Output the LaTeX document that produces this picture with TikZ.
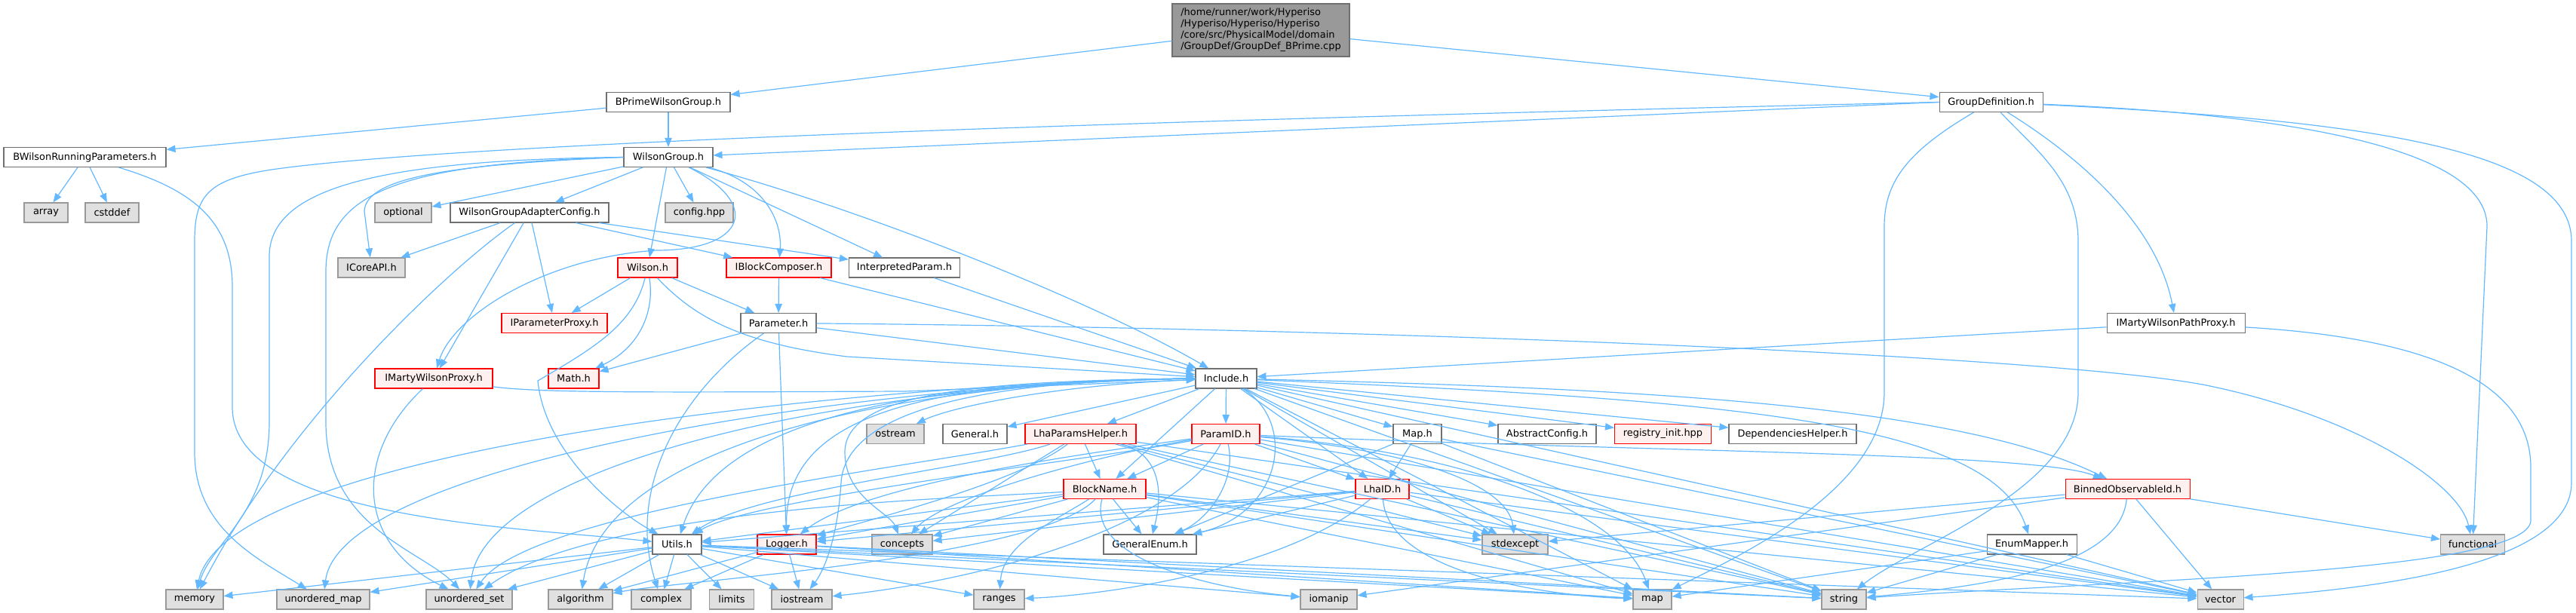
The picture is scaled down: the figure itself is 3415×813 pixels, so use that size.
\documentclass[tikz,border=0pt]{standalone}
\usepackage{fontspec}
\setmainfont{DejaVu Sans}
\usetikzlibrary{arrows.meta}

\definecolor{depblue}{HTML}{63B8FF}
\definecolor{nodegray}{HTML}{707070}
\definecolor{sysborder}{HTML}{999999}
\definecolor{sysfill}{HTML}{E0E0E0}
\definecolor{truncfill}{HTML}{FFF0F0}
\definecolor{rootfill}{HTML}{999999}

\tikzset{every picture/.style={line width=0.75pt}}
\tikzset{
  hfile/.style={draw=nodegray, fill=white, line width=0.8pt, minimum height=19.5pt, inner sep=0pt, font=\fontsize{9.7}{11.25}\selectfont},
  sysfile/.style={hfile, draw=sysborder, fill=sysfill},
  trunc/.style={hfile, draw=red, fill=truncfill},
  rootfile/.style={hfile, draw=nodegray, fill=rootfill, align=left},
  dep/.style={draw=depblue, line width=0.9pt, -{Triangle[length=9pt,width=7pt]}},
}

\begin{document}
\begin{tikzpicture}[x=0.75pt,y=0.75pt,yscale=-1]
\useasboundingbox (0,0) rectangle (3415,813);

% Text Node
\node[rootfile, minimum width=176.25pt, minimum height=52.5pt] (root) at (1671.5,40) {/home/runner/work/Hyperiso\\/Hyperiso/Hyperiso/Hyperiso\\/core/src/PhysicalModel/domain\\/GroupDef/GroupDef\_BPrime.cpp};
% Text Node
\node[hfile, minimum width=123pt] (bpwg) at (886,135.5) {BPrimeWilsonGroup.h};
\node[hfile, minimum width=102.75pt] (grpdef) at (2639.5,135.5) {GroupDefinition.h};
% Text Node
\node[hfile, minimum width=161.25pt] (bwrp) at (112.5,208.5) {BWilsonRunningParameters.h};
\node[hfile, minimum width=88.5pt] (wgrp) at (886,208.5) {WilsonGroup.h};
% Text Node
\node[sysfile, minimum width=43.5pt] (array) at (61,282) {array};
\node[sysfile, minimum width=53.25pt] (cstddef) at (148.5,282) {cstddef};
\node[sysfile, minimum width=56.25pt] (optional) at (534.5,282) {optional};
\node[hfile, minimum width=157.5pt] (wgac) at (702,282) {WilsonGroupAdapterConfig.h};
\node[sysfile, minimum width=67.5pt] (confighpp) at (927,282) {config.hpp};
% Text Node
\node[sysfile, minimum width=66.75pt] (icoreapi) at (492.5,355) {ICoreAPI.h};
\node[trunc, minimum width=59.25pt] (wilson) at (858.5,355) {Wilson.h};
\node[trunc, minimum width=104.25pt] (iblock) at (1032.5,355) {IBlockComposer.h};
\node[hfile, minimum width=110.25pt] (interp) at (1199,355) {InterpretedParam.h};
% Text Node
\node[trunc, minimum width=105pt] (ipproxy) at (735,428.5) {IParameterProxy.h};
\node[hfile, minimum width=75pt] (param) at (1032,428.5) {Parameter.h};
\node[hfile, minimum width=137.25pt] (impathproxy) at (2884.5,428.5) {IMartyWilsonPathProxy.h};
% Text Node
\node[trunc, minimum width=117pt] (imwproxy) at (575,502) {IMartyWilsonProxy.h};
\node[trunc, minimum width=50.25pt] (math) at (760.5,502) {Math.h};
\node[hfile, minimum width=60.75pt] (include) at (1625.5,502) {Include.h};
% Text Node
\node[sysfile, minimum width=57pt] (ostream) at (1187,575.5) {ostream};
\node[hfile, minimum width=63.75pt] (general) at (1292.5,575.5) {General.h};
\node[trunc, minimum width=110.25pt] (lhaph) at (1432.5,575.5) {LhaParamsHelper.h};
\node[trunc, minimum width=67.5pt] (paramid) at (1625,575.5) {ParamID.h};
\node[hfile, minimum width=48pt] (maph) at (1879,575.5) {Map.h};
\node[hfile, minimum width=97.5pt] (abscfg) at (2051,575.5) {AbstractConfig.h};
\node[trunc, minimum width=96pt] (reginit) at (2204.5,575.5) {registry\_init.hpp};
\node[hfile, minimum width=126.75pt] (dephelp) at (2376.5,575.5) {DependenciesHelper.h};
% Text Node
\node[trunc, minimum width=81.75pt] (blockname) at (1464.5,648.5) {BlockName.h};
\node[trunc, minimum width=53.25pt] (lhaid) at (1832.5,648.5) {LhaID.h};
\node[trunc, minimum width=123.75pt] (binobs) at (2820.5,648.5) {BinnedObservableId.h};
% Text Node
\node[hfile, minimum width=48.75pt] (utils) at (897.5,722) {Utils.h};
\node[trunc, minimum width=58.5pt] (logger) at (1043,722) {Logger.h};
\node[sysfile, minimum width=60pt] (concepts) at (1196,722) {concepts};
\node[hfile, minimum width=92.25pt] (genenum) at (1524.5,722) {GeneralEnum.h};
\node[sysfile, minimum width=65.25pt] (stdexcept) at (2008.5,722) {stdexcept};
\node[hfile, minimum width=89.25pt] (enummap) at (2693.5,722) {EnumMapper.h};
\node[sysfile, minimum width=63.75pt] (functional) at (3278,722) {functional};
% Text Node
\node[sysfile, minimum width=57pt] (memory) at (258,795) {memory};
\node[sysfile, minimum width=92.25pt] (umap) at (428.5,795) {unordered\_map};
\node[sysfile, minimum width=85.5pt] (uset) at (622,795) {unordered\_set};
\node[sysfile, minimum width=63.75pt] (algorithm) at (769.5,795) {algorithm};
\node[sysfile, minimum width=59.25pt] (complex) at (876.5,795) {complex};
\node[sysfile, minimum width=44.25pt] (limits) at (970,795) {limits};
\node[sysfile, minimum width=60pt] (iostream) at (1063,795) {iostream};
\node[sysfile, minimum width=50.25pt] (ranges) at (1324.5,795) {ranges};
\node[sysfile, minimum width=56.25pt] (iomanip) at (1761.5,795) {iomanip};
\node[sysfile, minimum width=38.25pt] (map) at (2190.5,795) {map};
\node[sysfile, minimum width=44.25pt] (string) at (2444.5,795) {string};
\node[sysfile, minimum width=45.75pt] (vector) at (2943.5,795) {vector};

%Straight Lines
\draw[dep] (root) -- (bpwg);
\draw[dep] (root) -- (grpdef);
\draw[dep] (bpwg) -- (bwrp);
\draw[dep] (bpwg) -- (wgrp);
\draw[dep] (grpdef.west) -- (wgrp);
%Curve Lines
\draw[dep] (grpdef.west) .. controls (1500,160) and (600,190) .. (360,225) .. controls (275,238) and (258,260) .. (258,320) -- (258,600) .. controls (258,700) and (340,740) .. (umap);
\draw[dep] (grpdef) .. controls (2760,210) and (2860,300) .. (impathproxy);
\draw[dep] (grpdef) .. controls (2530,200) and (2498,240) .. (2498,300) -- (2498,520) .. controls (2498,650) and (2300,740) .. (map);
\draw[dep] (grpdef) .. controls (2700,200) and (2755,240) .. (2755,320) -- (2755,520) .. controls (2755,650) and (2540,720) .. (string);
\draw[dep] (grpdef) .. controls (3000,150) and (3297,190) .. (3297,300) -- (functional);
\draw[dep] (grpdef) .. controls (3150,160) and (3409,200) .. (3409,320) -- (3409,640) .. controls (3409,750) and (3150,780) .. (vector);

%BWilsonRunningParameters
\draw[dep] (bwrp) -- (array);
\draw[dep] (bwrp) -- (cstddef);
\draw[dep] (bwrp) .. controls (250,250) and (308,290) .. (308,380) -- (308,540) .. controls (308,690) and (700,700) .. (utils);

%WilsonGroup
\draw[dep] (wgrp) -- (optional);
\draw[dep] (wgrp) -- (wgac);
\draw[dep] (wgrp) -- (confighpp);
\draw[dep] (wgrp) -- (wilson);
\draw[dep] (wgrp) -- (interp);
\draw[dep] (wgrp) .. controls (1010,240) and (1037,290) .. (iblock);
\draw[dep] (wgrp) .. controls (1150,280) and (1450,400) .. (include);
\draw[dep] (wgrp.west) .. controls (600,218) and (485,235) .. (483,280) -- (icoreapi);
\draw[dep] (wgrp) .. controls (1010,270) and (990,332) .. (870,332) .. controls (720,342) and (600,420) .. (imwproxy);
\draw[dep] (wgrp.west) .. controls (500,212) and (357,250) .. (357,340) -- (357,560) .. controls (357,680) and (280,720) .. (memory);
\draw[dep] (wgrp.west) .. controls (520,216) and (432,260) .. (432,360) -- (432,560) .. controls (432,700) and (560,730) .. (uset);

%WilsonGroupAdapterConfig
\draw[dep] (wgac) -- (icoreapi);
\draw[dep] (wgac) -- (ipproxy);
\draw[dep] (wgac) -- (iblock);
\draw[dep] (wgac) -- (interp);
\draw[dep] (wgac) -- (imwproxy);
\draw[dep] (wgac) .. controls (590,360) and (380,560) .. (memory);

%Wilson
\draw[dep] (wilson) -- (ipproxy);
\draw[dep] (wilson) -- (param);
\draw[dep] (wilson) .. controls (868,410) and (850,460) .. (math);
\draw[dep] (wilson) .. controls (920,420) and (980,455) .. (1123,473) -- (include);
\draw[dep] (wilson) .. controls (840,430) and (790,460) .. (713,505) .. controls (722,600) and (820,680) .. (utils);

%IBlockComposer, InterpretedParam, Parameter
\draw[dep] (iblock) -- (param);
\draw[dep] (iblock) -- (include);
\draw[dep] (interp) -- (include);
\draw[dep] (param) -- (math);
\draw[dep] (param) -- (include);
\draw[dep] (param) -- (logger);
\draw[dep] (param) .. controls (900,520) and (830,650) .. (complex);
\draw[dep] (param) .. controls (1800,435) and (2700,470) .. (2920,510) .. controls (3120,550) and (3260,640) .. (functional);

%Proxies
\draw[dep] (impathproxy) -- (include);
\draw[dep] (impathproxy) .. controls (3250,450) and (3355,520) .. (3355,620) -- (3355,690) .. controls (3355,760) and (2800,770) .. (string);
\draw[dep] (imwproxy) .. controls (720,522) and (900,520) .. (1200,519) -- (include);
\draw[dep] (imwproxy) .. controls (470,600) and (470,720) .. (uset);

%Include
\draw[dep] (include) .. controls (1400,510) and (1260,540) .. (ostream);
\draw[dep] (include) -- (general);
\draw[dep] (include) -- (lhaph);
\draw[dep] (include) -- (paramid);
\draw[dep] (include) -- (blockname);
\draw[dep] (include) -- (lhaid);
\draw[dep] (include) -- (maph);
\draw[dep] (include) -- (abscfg);
\draw[dep] (include) -- (reginit);
\draw[dep] (include) -- (dephelp);
\draw[dep] (include) -- (stdexcept);
\draw[dep] (include) -- (map);
\draw[dep] (include) -- (string);
\draw[dep] (include) -- (vector);
\draw[dep] (include) .. controls (1720,560) and (1700,680) .. (genenum);
\draw[dep] (include) .. controls (2200,515) and (2600,540) .. (binobs);
\draw[dep] (include) .. controls (2300,530) and (2640,560) .. (enummap);
\draw[dep] (include.west) .. controls (1250,505) and (1040,540) .. (logger);
\draw[dep] (include.west) .. controls (1300,505) and (1120,520) .. (1120,600) .. controls (1120,660) and (1180,680) .. (concepts);
\draw[dep] (include.west) .. controls (1200,505) and (950,560) .. (utils);
\draw[dep] (include.west) .. controls (1250,505) and (1120,560) .. (1115,640) .. controls (1110,720) and (1090,760) .. (iostream);
\draw[dep] (include.west) .. controls (1150,508) and (800,600) .. (algorithm);
\draw[dep] (include.west) .. controls (1100,510) and (300,600) .. (memory);
\draw[dep] (include.west) .. controls (1100,510) and (450,620) .. (umap);
\draw[dep] (include.west) .. controls (1100,510) and (640,620) .. (uset);

%LhaParamsHelper
\draw[dep] (lhaph) -- (blockname);
\draw[dep] (lhaph) -- (concepts);
\draw[dep] (lhaph) -- (stdexcept);
\draw[dep] (lhaph) -- (map);
\draw[dep] (lhaph) -- (string);
\draw[dep] (lhaph) -- (vector);
\draw[dep] (lhaph) .. controls (1530,600) and (1545,640) .. (genenum);
\draw[dep] (lhaph) .. controls (1300,620) and (1000,650) .. (utils);
\draw[dep] (lhaph) .. controls (1350,640) and (1150,690) .. (logger);
\draw[dep] (lhaph) .. controls (1200,620) and (700,680) .. (uset);

%ParamID
\draw[dep] (paramid) -- (blockname);
\draw[dep] (paramid) -- (lhaid);
\draw[dep] (paramid) -- (string);
\draw[dep] (paramid) -- (vector);
\draw[dep] (paramid) .. controls (1640,640) and (1600,690) .. (genenum);
\draw[dep] (paramid) .. controls (1450,600) and (1150,640) .. (logger);
\draw[dep] (paramid) .. controls (1450,610) and (1000,660) .. (utils);
\draw[dep] (paramid) .. controls (1450,605) and (1250,660) .. (concepts);
\draw[dep] (paramid) .. controls (1900,600) and (2000,650) .. (stdexcept);
\draw[dep] (paramid) .. controls (1950,600) and (2150,680) .. (map);
\draw[dep] (paramid) .. controls (2200,600) and (2700,600) .. (binobs);
\draw[dep] (paramid) .. controls (1560,700) and (1300,770) .. (iostream);

%BlockName
\draw[dep] (blockname) -- (genenum);
\draw[dep] (blockname) -- (utils);
\draw[dep] (blockname) -- (logger);
\draw[dep] (blockname) -- (concepts);
\draw[dep] (blockname) -- (stdexcept);
\draw[dep] (blockname) -- (map);
\draw[dep] (blockname) -- (string);
\draw[dep] (blockname) -- (vector);
\draw[dep] (blockname) .. controls (1400,690) and (1330,720) .. (ranges);
\draw[dep] (blockname) .. controls (1300,660) and (800,670) .. (uset);
\draw[dep] (blockname) .. controls (1440,740) and (1600,780) .. (iomanip);
\draw[dep] (blockname) .. controls (1380,740) and (900,770) .. (algorithm);

%LhaID
\draw[dep] (lhaid) -- (genenum);
\draw[dep] (lhaid) -- (stdexcept);
\draw[dep] (lhaid) -- (string);
\draw[dep] (lhaid) -- (vector);
\draw[dep] (lhaid) -- (utils);
\draw[dep] (lhaid) -- (logger);
\draw[dep] (lhaid) -- (concepts);
\draw[dep] (lhaid) .. controls (1840,760) and (2050,790) .. (map);
\draw[dep] (lhaid) .. controls (1700,760) and (1450,790) .. (ranges);

%Map
\draw[dep] (maph) -- (lhaid);
\draw[dep] (maph) -- (genenum);
\draw[dep] (maph) -- (string);
\draw[dep] (maph) -- (vector);

%BinnedObservableId
\draw[dep] (binobs) -- (functional);
\draw[dep] (binobs) -- (vector);
\draw[dep] (binobs) -- (stdexcept);
\draw[dep] (binobs) -- (iomanip);
\draw[dep] (binobs) .. controls (2810,760) and (2600,780) .. (string);

%EnumMapper
\draw[dep] (enummap) -- (string);
\draw[dep] (enummap) -- (vector);
\draw[dep] (enummap) -- (map);

%Utils
\draw[dep] (utils) -- (memory);
\draw[dep] (utils) -- (umap);
\draw[dep] (utils) -- (uset);
\draw[dep] (utils) -- (algorithm);
\draw[dep] (utils) -- (complex);
\draw[dep] (utils) -- (limits);
\draw[dep] (utils) -- (iostream);
\draw[dep] (utils) -- (ranges);
\draw[dep] (utils) -- (iomanip);
\draw[dep] (utils) -- (map);
\draw[dep] (utils) -- (string);
\draw[dep] (utils) -- (vector);

%Logger
\draw[dep] (logger) -- (iostream);
\draw[dep] (logger) -- (complex);
\draw[dep] (logger) -- (algorithm);
\draw[dep] (logger) -- (map);
\draw[dep] (logger) -- (string);

\end{tikzpicture}
\end{document}
